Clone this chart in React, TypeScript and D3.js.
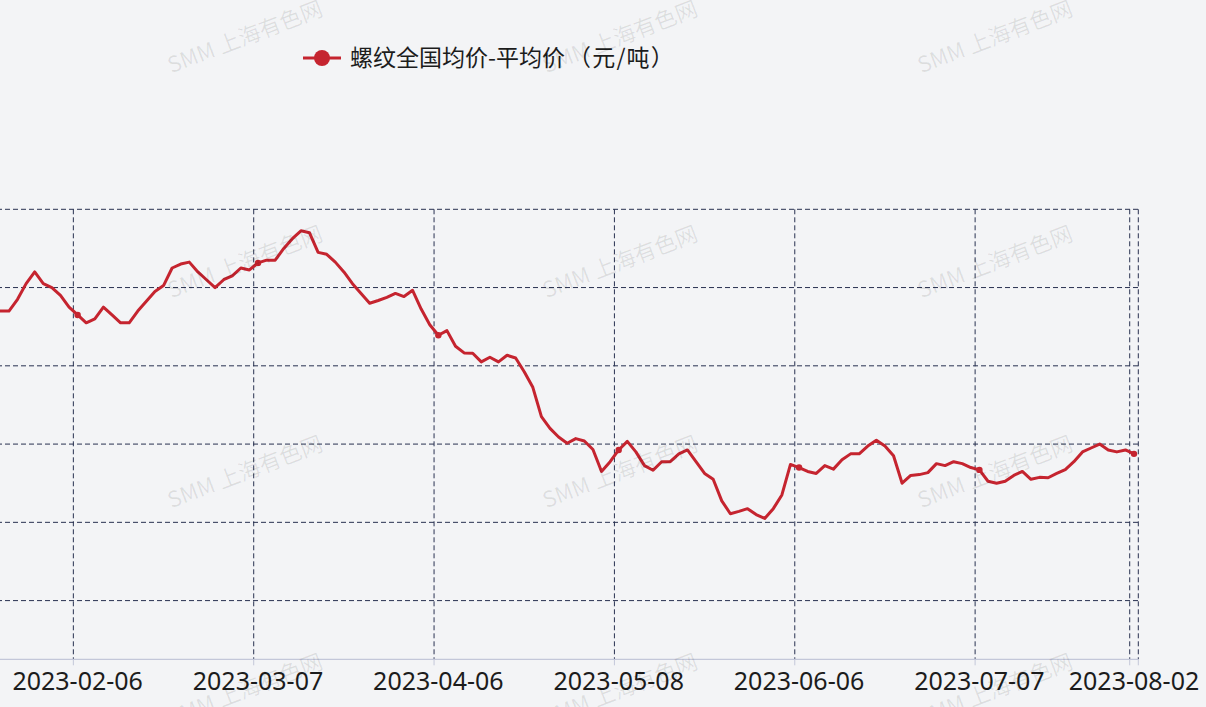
import * as d3 from "d3";
import { useEffect, useRef } from "react";

// tick labels on the category axis and the index of each one in the series
const tickLabels = [
  "2023-01-03",
  "2023-02-06",
  "2023-03-07",
  "2023-04-06",
  "2023-05-08",
  "2023-06-06",
  "2023-07-07",
  "2023-08-02",
];
const tickIndex = [0, 21, 42, 63, 84, 105, 126, 144];

const seriesName = "螺纹全国均价-平均价";
const seriesUnit = "（元/吨）";

// daily average price, one value per trading day from 2023-01-03 to 2023-08-02
const prices = [
  4100, 4110, 4110, 4120, 4120, 4130, 4130, 4130, 4140, 4140, 4140, 4140,
  4140, 4140, 4170, 4210, 4240, 4210, 4200, 4180, 4150, 4130, 4110, 4120,
  4150, 4130, 4110, 4110, 4140, 4165, 4190, 4205, 4250, 4260, 4265, 4240,
  4220, 4200, 4220, 4230, 4250, 4245, 4263, 4270, 4270, 4300, 4325, 4345,
  4340, 4290, 4285, 4265, 4240, 4210, 4185, 4160, 4167, 4175, 4185, 4177,
  4193, 4145, 4105, 4078, 4090, 4050, 4033, 4032, 4010, 4022, 4010, 4027,
  4020, 3985, 3945, 3870, 3840, 3818, 3802, 3814, 3808, 3786, 3730, 3755,
  3785, 3807, 3780, 3745, 3733, 3755, 3755, 3775, 3785, 3755, 3725, 3710,
  3655, 3622, 3628, 3635, 3620, 3610, 3635, 3670, 3748, 3740, 3730, 3725,
  3745, 3736, 3760, 3775, 3775, 3795, 3810, 3795, 3770, 3700, 3720, 3722,
  3727, 3750, 3745, 3755, 3750, 3740, 3734, 3705, 3700, 3705, 3720, 3730,
  3710, 3715, 3714, 3725, 3735, 3755, 3780, 3790, 3800, 3785, 3780, 3785,
  3775,
];

// y split lines (the axis labels sit left of the visible area)
const yTicks = [3400, 3600, 3800, 4000, 4200, 4400];

const App = () => {
  const ref = useRef<SVGSVGElement>(null);

  useEffect(() => {
    const svg = d3.select(ref.current);
    svg.selectAll("*").remove();
    const width = 1206;
    const height = 707;
    svg.attr("width", width).attr("height", height);

    const red = "#c5242f";
    const gridColor = "#283150";
    const left = -107;
    const right = 1138.3;
    const top = 209.3;
    const bottom = 659.3;

    svg
      .append("rect")
      .attr("width", width)
      .attr("height", height)
      .attr("fill", "#f3f4f6");

    const idx = prices.map((_, i) => i);
    const x = d3.scaleBand<number>().domain(idx).range([left, right]);
    const y = d3.scaleLinear().domain([3250, 4400]).range([bottom, top]);
    const cx = (i: number) => (x(i) ?? 0) + x.bandwidth() / 2;

    // horizontal grid
    svg
      .append("g")
      .selectAll("line")
      .data(yTicks)
      .enter()
      .append("line")
      .attr("x1", left)
      .attr("x2", right)
      .attr("y1", (d) => y(d))
      .attr("y2", (d) => y(d))
      .attr("stroke", gridColor)
      .attr("stroke-dasharray", "5,3");

    // vertical grid at band edges of the labelled days, plus the right edge
    const vx = tickIndex.map((i) => x(i) ?? 0).concat([right]);
    svg
      .append("g")
      .selectAll("line")
      .data(vx)
      .enter()
      .append("line")
      .attr("x1", (d) => d)
      .attr("x2", (d) => d)
      .attr("y1", top)
      .attr("y2", bottom)
      .attr("stroke", gridColor)
      .attr("stroke-dasharray", "5,3");

    // x axis line and ticks
    svg
      .append("line")
      .attr("x1", left)
      .attr("x2", right)
      .attr("y1", bottom)
      .attr("y2", bottom)
      .attr("stroke", "#c3c7d9")
      .attr("stroke-width", 1.2);
    svg
      .append("g")
      .selectAll("line")
      .data(vx)
      .enter()
      .append("line")
      .attr("x1", (d) => d)
      .attr("x2", (d) => d)
      .attr("y1", bottom)
      .attr("y2", bottom + 6)
      .attr("stroke", "#c3c7d9");

    svg
      .append("g")
      .selectAll("text")
      .data(tickIndex.slice(1))
      .enter()
      .append("text")
      .attr("x", (d) => cx(d))
      .attr("y", 690)
      .attr("text-anchor", "middle")
      .attr("font-family", "Noto Sans, sans-serif")
      .attr("font-size", 25)
      .attr("fill", "#1c1c1c")
      .text((_, i) => tickLabels[i + 1]);

    // price line
    const line = d3
      .line<number>()
      .x((_, i) => cx(i))
      .y((d) => y(d));
    svg
      .append("path")
      .datum(prices)
      .attr("d", line)
      .attr("fill", "none")
      .attr("stroke", red)
      .attr("stroke-width", 3)
      .attr("stroke-linejoin", "round");

    svg
      .append("g")
      .selectAll("circle")
      .data(tickIndex)
      .enter()
      .append("circle")
      .attr("cx", (d) => cx(d))
      .attr("cy", (d) => y(prices[d]))
      .attr("r", 3.2)
      .attr("fill", red);

    // legend
    const lg = svg.append("g").attr("transform", "translate(303,58)");
    lg.append("line")
      .attr("x1", 0)
      .attr("x2", 38)
      .attr("stroke", red)
      .attr("stroke-width", 3);
    lg.append("circle").attr("cx", 19).attr("r", 8).attr("fill", red);
    const lt = lg
      .append("text")
      .attr("x", 47)
      .attr("dy", "0.35em")
      .attr("font-family", "Noto Sans CJK SC, sans-serif")
      .attr("font-size", 23)
      .attr("fill", "#1c1c1c");
    lt.append("tspan").text(seriesName);
    lt.append("tspan").attr("dx", 3).attr("letter-spacing", 1.2).text(seriesUnit);

    // watermarks
    const wmX = [245, 620, 995];
    const wmY = [37, 262, 472, 690];
    const wm = svg.append("g").attr("pointer-events", "none");
    wmY.forEach((wy) =>
      wmX.forEach((wx) => {
        wm.append("text")
          .attr("transform", `translate(${wx},${wy}) rotate(-21)`)
          .attr("text-anchor", "middle")
          .attr("dy", "0.35em")
          .attr("font-family", "Noto Sans CJK SC, sans-serif")
          .attr("font-size", 22)
          .attr("fill", "rgba(0,0,0,0.09)")
          .text("SMM 上海有色网");
      })
    );
  }, []);

  return (
    <div style={{ position: "absolute", left: 0, top: 0 }}>
      <svg ref={ref} style={{ display: "block" }}></svg>
    </div>
  );
};

export default App;
